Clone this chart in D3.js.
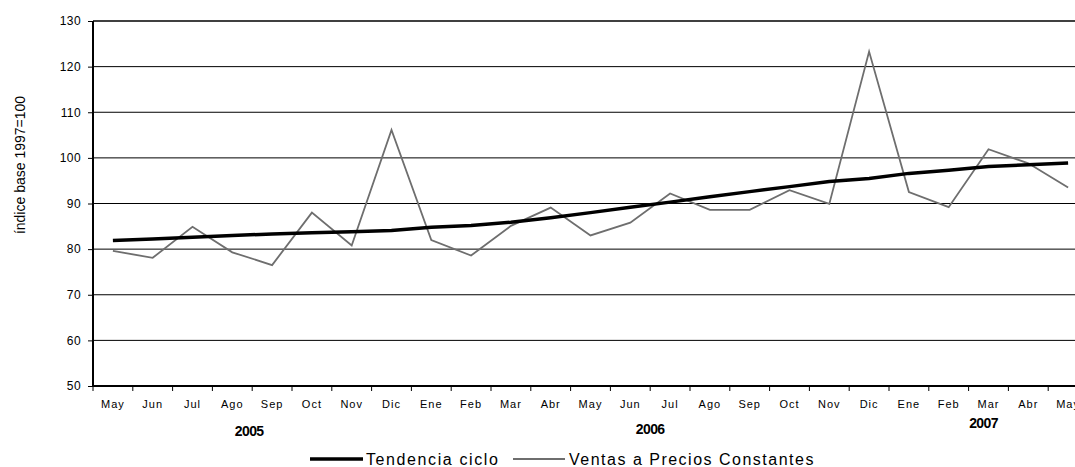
<!DOCTYPE html>
<html>
<head>
<meta charset="utf-8">
<script src="https://cdn.jsdelivr.net/npm/d3@7"></script>
<style>
  body { margin: 0; background: #fff; }
  text { font-family: "Liberation Sans", Arial, sans-serif; }
</style>
</head>
<body>
<div id="chart"></div>
<script>
// datos
const meses = ["May", "Jun", "Jul", "Ago", "Sep", "Oct", "Nov", "Dic", "Ene", "Feb", "Mar", "Abr",
  "May", "Jun", "Jul", "Ago", "Sep", "Oct", "Nov", "Dic", "Ene", "Feb", "Mar", "Abr", "May"];
const tendencia = [81.9, 82.2, 82.6, 83.0, 83.3, 83.6, 83.8, 84.1, 84.8, 85.2, 85.9, 86.9,
  88.0, 89.2, 90.3, 91.5, 92.6, 93.7, 94.8, 95.5, 96.6, 97.3, 98.1, 98.5, 98.9];
const ventas = [79.6, 78.1, 84.9, 79.3, 76.5, 88.0, 80.8, 106.1, 82.0, 78.6, 85.1, 89.1,
  83.0, 85.8, 92.2, 88.6, 88.6, 92.9, 89.9, 123.3, 92.5, 89.2, 101.9, 98.8, 93.5];
const yTicks = [50, 60, 70, 80, 90, 100, 110, 120, 130];
const anios = ["2005", "2006", "2007"];
const aniosMes = [4, 14, 22]; // indice del mes junto al que va el año

const width = 1075;
const height = 467;
const margin = { top: 21, left: 93, bottom: 81 };

const svg = d3.select("#chart")
  .append("svg")
  .attr("width", width)
  .attr("height", height);

svg.append("rect").attr("width", width).attr("height", height).attr("fill", "#fff");

const x = d3.scaleBand()
  .domain(d3.range(meses.length))
  .range([margin.left, margin.left + 39.8 * meses.length])
  .padding(0);

const y = d3.scaleLinear()
  .domain([50, 130])
  .range([height - margin.bottom, margin.top]);

const xEnd = x.range()[1];

// lineas de la grilla
svg.append("g")
  .selectAll("line")
  .data(yTicks.filter((d) => d > 50))
  .join("line")
  .attr("x1", margin.left)
  .attr("x2", xEnd)
  .attr("y1", (d) => y(d))
  .attr("y2", (d) => y(d))
  .attr("stroke", "#000")
  .attr("stroke-width", (d) => (d === 130 ? 1.6 : 1));

// eje y
const yAxis = svg.append("g")
  .attr("transform", "translate(" + margin.left + ",0)")
  .call(d3.axisLeft(y).tickValues(yTicks).tickSize(5).tickPadding(7));
yAxis.select(".domain").remove();
yAxis.selectAll("text")
  .attr("font-size", "12px")
  .attr("letter-spacing", "0.4px")
  .attr("fill", "#000")
  .attr("font-family", "Liberation Sans, Arial, sans-serif");
yAxis.selectAll(".tick line").attr("stroke", "#000");

svg.append("text")
  .attr("transform", "translate(25,165) rotate(-90)")
  .attr("text-anchor", "middle")
  .attr("font-size", "14px")
  .text("índice base 1997=100");

// eje x: etiquetas centradas, marcas en los bordes de cada mes
const xAxis = svg.append("g")
  .attr("transform", "translate(0," + y(50) + ")")
  .call(d3.axisBottom(x).tickFormat((i) => meses[i]).tickSize(0).tickPadding(14));
xAxis.select(".domain").remove();
xAxis.selectAll("text")
  .attr("font-size", "11px")
  .attr("letter-spacing", "1px")
  .attr("fill", "#000")
  .attr("font-family", "Liberation Sans, Arial, sans-serif");

svg.append("g")
  .selectAll("line")
  .data(d3.range(meses.length + 1))
  .join("line")
  .attr("x1", (i) => margin.left + i * x.bandwidth())
  .attr("x2", (i) => margin.left + i * x.bandwidth())
  .attr("y1", y(50))
  .attr("y2", y(50) + 5)
  .attr("stroke", "#000");

// años
const aniosDx = [-3, 0, -5];
const aniosY = [436, 434, 428];
svg.append("g")
  .selectAll("text")
  .data(anios)
  .join("text")
  .attr("x", (d, i) => (i === 2 ? x(aniosMes[i]) + x.bandwidth() / 2 : x(aniosMes[i])) + aniosDx[i])
  .attr("y", (d, i) => aniosY[i])
  .attr("text-anchor", "middle")
  .attr("font-size", "14px")
  .attr("font-weight", "bold")
  .attr("letter-spacing", "-0.6px")
  .text((d) => d);

// lineas principales de los ejes
svg.append("line")
  .attr("x1", margin.left).attr("x2", margin.left)
  .attr("y1", y(130)).attr("y2", y(50))
  .attr("stroke", "#000").attr("stroke-width", 2);
svg.append("line")
  .attr("x1", margin.left).attr("x2", xEnd)
  .attr("y1", y(50)).attr("y2", y(50))
  .attr("stroke", "#000").attr("stroke-width", 2);

const cx = (i) => x(i) + x.bandwidth() / 2;
const line = d3.line()
  .x((d, i) => cx(i))
  .y((d) => y(d));

svg.append("path")
  .datum(ventas)
  .attr("fill", "none")
  .attr("stroke", "#6e6e6e")
  .attr("stroke-width", 1.8)
  .attr("d", line);

svg.append("path")
  .datum(tendencia)
  .attr("fill", "none")
  .attr("stroke", "#000")
  .attr("stroke-width", 3.5)
  .attr("d", line);

// leyenda
const legend = svg.append("g").attr("transform", "translate(0,459)");
legend.append("line")
  .attr("x1", 310).attr("x2", 363)
  .attr("stroke", "#000").attr("stroke-width", 3.5);
legend.append("text")
  .attr("x", 366).attr("y", 6)
  .attr("font-size", "16px")
  .attr("letter-spacing", "1.6px")
  .text("Tendencia ciclo");
legend.append("line")
  .attr("x1", 513).attr("x2", 565)
  .attr("stroke", "#6e6e6e").attr("stroke-width", 1.8);
legend.append("text")
  .attr("x", 569).attr("y", 6)
  .attr("font-size", "16px")
  .attr("letter-spacing", "1.5px")
  .text("Ventas a Precios Constantes");
</script>
</body>
</html>
